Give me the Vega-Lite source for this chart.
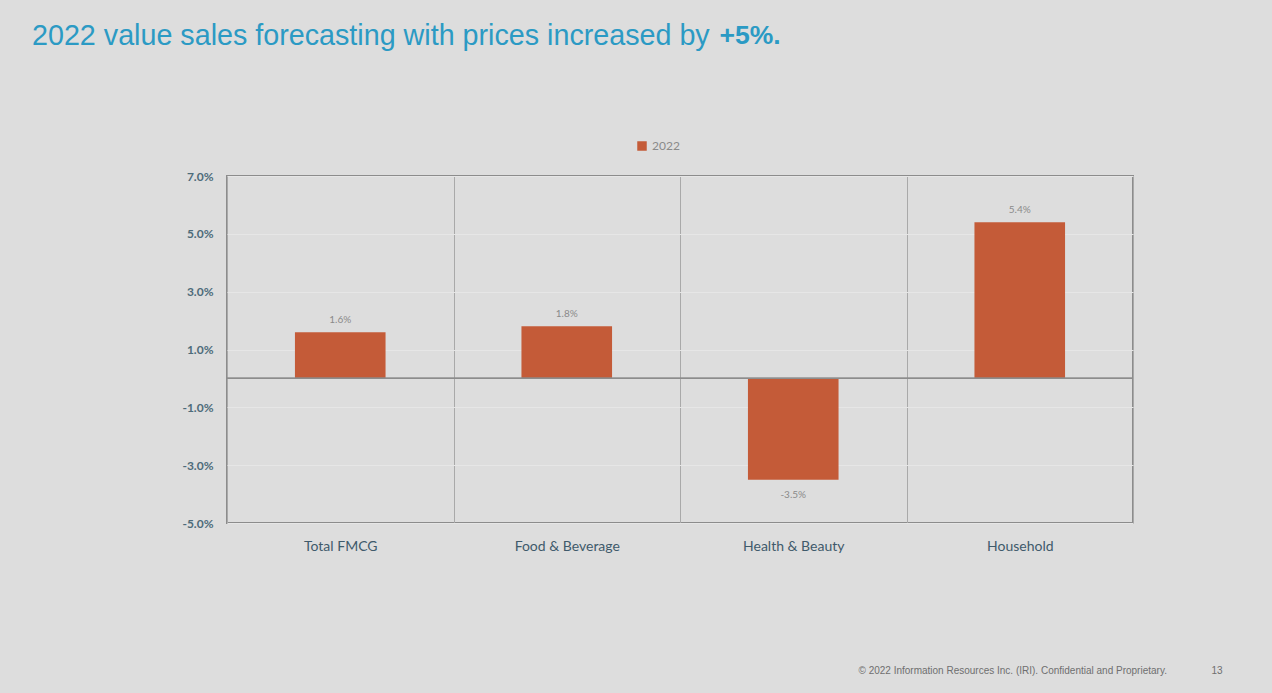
{
  "$schema": "https://vega.github.io/schema/vega-lite/v6.json",
  "autosize": {"type": "none"},
  "width": 906,
  "height": 347,
  "padding": {"left": 227, "top": 176, "right": 139, "bottom": 170},
  "background": "#dddddd",
  "title": {
    "text": "2022 value sales forecasting with prices increased by",
    "anchor": "start",
    "frame": "group",
    "dx": -195,
    "offset": -29,
    "font": "Liberation Sans",
    "fontSize": 28.7,
    "fontWeight": "normal",
    "color": "#2b9ac4"
  },
  "data": {
    "values": [
      {"category": "Total FMCG", "year": "2022", "growth": 0.016},
      {"category": "Food & Beverage", "year": "2022", "growth": 0.018},
      {"category": "Health & Beauty", "year": "2022", "growth": -0.035},
      {"category": "Household", "year": "2022", "growth": 0.054}
    ]
  },
  "encoding": {
    "x": {
      "field": "category",
      "type": "nominal",
      "sort": null,
      "scale": {"paddingInner": 0, "paddingOuter": 0},
      "axis": {
        "labelAngle": 0,
        "labelFont": "Lato",
        "labelFontSize": 14,
        "labelColor": "#3f5a6b",
        "labelPadding": 16,
        "ticks": false,
        "domain": false,
        "grid": true,
        "tickBand": "extent",
        "gridColor": "#a9a9a9",
        "gridWidth": 1,
        "title": "© 2022 Information Resources Inc. (IRI). Confidential and Proprietary.\u00a0\u00a0\u00a0\u00a0\u00a0\u00a0\u00a0\u00a0\u00a0\u00a0\u00a0\u00a0\u00a0\u00a0\u00a0\u00a013",
        "titleFont": "Liberation Sans",
        "titleFontSize": 10,
        "titleFontWeight": "normal",
        "titleColor": "#6f6f6f",
        "titleAlign": "right",
        "titleBaseline": "middle",
        "titleAnchor": null,
        "titleX": 995,
        "titleY": 147
      }
    },
    "y": {
      "field": "growth",
      "type": "quantitative",
      "scale": {"domain": [-0.05, 0.07], "nice": false, "zero": false},
      "axis": {
        "values": [-0.05, -0.03, -0.01, 0.01, 0.03, 0.05, 0.07],
        "format": ".1%",
        "labelFont": "Lato",
        "labelFontSize": 12,
        "labelFontWeight": "bold",
        "labelColor": "#4d6b7a",
        "labelPadding": 14,
        "ticks": false,
        "domain": false,
        "grid": true,
        "gridColor": "#e6e6e6",
        "title": "+5%.",
        "titleFont": "Liberation Sans",
        "titleFontSize": 26.5,
        "titleFontWeight": "bold",
        "titleColor": "#2b9ac4",
        "titleAngle": 0,
        "titleAlign": "left",
        "titleBaseline": "alphabetic",
        "titleAnchor": null,
        "titleX": 492,
        "titleY": -133
      }
    }
  },
  "layer": [
    {
      "mark": {"type": "bar", "width": {"band": 0.4}},
      "encoding": {
        "color": {
          "field": "year",
          "type": "nominal",
          "scale": {"range": ["#c45b38"]},
          "legend": {
            "orient": "none",
            "legendX": 409,
            "legendY": -36,
            "direction": "horizontal",
            "title": null,
            "symbolType": "square",
            "symbolSize": 90,
            "symbolStrokeWidth": 0,
            "labelFont": "Lato",
            "labelFontSize": 12,
            "labelColor": "#8a8a8a"
          }
        }
      }
    },
    {
      "mark": {"type": "rule", "color": "#8c8c8c", "strokeWidth": 1.2},
      "encoding": {"y": {"datum": 0}, "x": {"value": 0}, "x2": {"value": 906}}
    },
    {
      "transform": [{"filter": "datum.growth >= 0"}],
      "mark": {"type": "text", "baseline": "bottom", "dy": -7, "font": "Lato", "fontSize": 10, "color": "#8a8a8a"},
      "encoding": {"text": {"field": "growth", "type": "quantitative", "format": ".1%"}}
    },
    {
      "transform": [{"filter": "datum.growth < 0"}],
      "mark": {"type": "text", "baseline": "top", "dy": 10, "font": "Lato", "fontSize": 10, "color": "#8a8a8a"},
      "encoding": {"text": {"field": "growth", "type": "quantitative", "format": ".1%"}}
    }
  ],
  "config": {
    "view": {"stroke": "#8c8c8c", "strokeWidth": 2},
    "locale": {"number": {"decimal": ".", "thousands": ",", "grouping": [3], "currency": ["$", ""], "minus": "-"}}
  }
}
